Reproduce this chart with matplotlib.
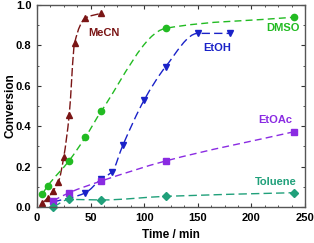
import numpy as np
import matplotlib
matplotlib.use("Agg")
import matplotlib.pyplot as plt
from matplotlib.path import Path
from matplotlib.patches import PathPatch
from matplotlib.ticker import MultipleLocator, FormatStrFormatter

plt.rcParams['font.family'] = ['Liberation Sans', 'DejaVu Sans']
plt.rcParams['font.weight'] = 'bold'

# data
mecn_t = [5, 10, 15, 20, 25, 30, 35, 45, 60]
mecn_y = [0.02, 0.045, 0.08, 0.125, 0.25, 0.455, 0.81, 0.935, 0.96]
dmso_t = [5, 10, 30, 45, 60, 120, 240]
dmso_y = [0.065, 0.105, 0.23, 0.345, 0.475, 0.885, 0.94]
etoh_t = [15, 45, 60, 70, 80, 100, 120, 150, 180]
etoh_y = [0.025, 0.07, 0.14, 0.175, 0.305, 0.53, 0.695, 0.86, 0.86]
etoac_t = [15, 30, 60, 120, 240]
etoac_y = [0.031, 0.071, 0.129, 0.228, 0.373]
tol_t = [15, 30, 60, 120, 240]
tol_y = [0.0, 0.038, 0.035, 0.053, 0.071]


def pchip_slopes(x, y):
    x = np.asarray(x, float)
    y = np.asarray(y, float)
    h = np.diff(x)
    d = np.diff(y) / h
    m = np.zeros_like(y)
    m[0], m[-1] = d[0], d[-1]
    for i in range(1, len(x) - 1):
        if d[i - 1] * d[i] <= 0:
            m[i] = 0
        else:
            w1 = 2 * h[i] + h[i - 1]
            w2 = h[i] + 2 * h[i - 1]
            m[i] = (w1 + w2) / (w1 / d[i - 1] + w2 / d[i])
    return m


def smooth_line(ax, x, y, color, dashes, lw=1.0):
    # cubic bezier path through the points (monotone tangents)
    m = pchip_slopes(x, y)
    verts = [(x[0], y[0])]
    codes = [Path.MOVETO]
    for i in range(len(x) - 1):
        h = x[i + 1] - x[i]
        verts += [(x[i] + h / 3, y[i] + m[i] * h / 3),
                  (x[i + 1] - h / 3, y[i + 1] - m[i + 1] * h / 3),
                  (x[i + 1], y[i + 1])]
        codes += [Path.CURVE4] * 3
    patch = PathPatch(Path(verts, codes), facecolor='none', edgecolor=color,
                      lw=lw, linestyle=(0, dashes))
    ax.add_patch(patch)


fig = plt.figure(figsize=(3.14, 2.43), dpi=100)
ax = fig.add_axes([0.118, 0.148, 0.853, 0.831])

series = [
    (mecn_t, mecn_y, '#7a1515', '^', (6, 2)),
    (dmso_t, dmso_y, '#22bb22', 'o', (5, 3)),
    (etoh_t, etoh_y, '#1a22c8', 'v', (6, 3)),
    (etoac_t, etoac_y, '#8a2be2', 's', (5, 3)),
    (tol_t, tol_y, '#20a07a', 'D', (6, 3)),
]
for t, y, c, mk, ds in series:
    smooth_line(ax, t, y, c, ds)
    ax.plot(t, y, linestyle='none', marker=mk, color=c,
            markersize=4.5 if mk != 'D' else 3.8, clip_on=False)

ax.text(62, 0.86, 'MeCN', color='#7a1515', fontsize=8, ha='center', va='center')
ax.text(230, 0.885, 'DMSO', color='#22bb22', fontsize=8, ha='center', va='center')
ax.text(168, 0.787, 'EtOH', color='#1a22c8', fontsize=8, ha='center', va='center')
ax.text(222, 0.43, 'EtOAc', color='#8a2be2', fontsize=8, ha='center', va='center')
ax.text(223, 0.125, 'Toluene', color='#20a07a', fontsize=8, ha='center', va='center')

ax.set_xlim(0, 250)
ax.set_ylim(0, 1.0)
ax.xaxis.set_major_locator(MultipleLocator(50))
ax.xaxis.set_minor_locator(MultipleLocator(12.5))
ax.yaxis.set_major_locator(MultipleLocator(0.2))
ax.yaxis.set_minor_locator(MultipleLocator(0.1))
ax.yaxis.set_major_formatter(FormatStrFormatter('%.1f'))
ax.tick_params(which='both', direction='in', top=True, right=True, labelsize=8, color='#333333')
ax.tick_params(which='major', length=3, pad=4)
ax.tick_params(which='minor', length=1.5)
for s in ax.spines.values():
    s.set_color('#555555')
    s.set_linewidth(1.0)

ax.set_xlabel('Time / min', fontsize=8.5, fontweight='bold')
ax.set_ylabel('Conversion', fontsize=8.5, fontweight='bold')
ax.xaxis.set_label_coords(0.5, -0.11)
ax.yaxis.set_label_coords(-0.075, 0.5)

fig.savefig('out.png', dpi=100)
